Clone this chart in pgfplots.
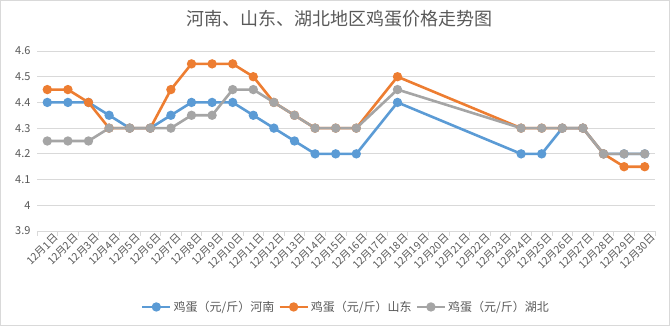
\documentclass[border=0pt]{standalone}
\usepackage{pgfplots}
\pgfplotsset{compat=1.18}
\usepackage{fontspec}
\setmainfont{Noto Sans CJK SC}
\definecolor{cBlue}{HTML}{5B9BD5}
\definecolor{cOrange}{HTML}{ED7D31}
\definecolor{cGray}{HTML}{A5A5A5}
\definecolor{cGrid}{HTML}{D9D9D9}
\definecolor{cText}{HTML}{595959}
\begin{document}
\begin{tikzpicture}
\path[use as bounding box] (-37pt,-95pt) rectangle (633pt,231pt);
\draw[cGrid, line width=0.8pt] (-36.5pt,-94.5pt) rectangle (632.5pt,230.5pt);
\begin{axis}[
  at={(0pt,0pt)}, anchor=south west,
  scale only axis, width=618pt, height=180pt,
  xmin=-0.5, xmax=29.5, ymin=3.9, ymax=4.6,
  ytick={3.9,4,4.1,4.2,4.3,4.4,4.5,4.6},
  xtick={0,...,29},
  xticklabels={12月1日,12月2日,12月3日,12月4日,12月5日,12月6日,12月7日,12月8日,12月9日,12月10日,12月11日,12月12日,12月13日,12月14日,12月15日,12月16日,12月17日,12月18日,12月19日,12月20日,12月21日,12月22日,12月23日,12月24日,12月25日,12月26日,12月27日,12月28日,12月29日,12月30日},
  extra x ticks={-0.5,0.5,...,29.5},
  extra x tick labels={},
  extra x tick style={major tick length=5pt, tick align=outside, grid=none, major tick style={draw=cGrid, line width=0.8pt}},
  major tick length=0pt,
  axis x line*=bottom, axis y line*=left,
  separate axis lines,
  x axis line style={draw=cGrid, line width=0.8pt, -},
  y axis line style={draw=none},
  ymajorgrids, grid style={draw=cGrid, line width=0.8pt},
  /pgf/number format/assume math mode=true,
  yticklabel style={font=\fontsize{11}{12}\selectfont, text=cText, xshift=-3pt},
  xticklabel style={font=\fontsize{10.5}{11}\selectfont, text=cText, rotate=45, anchor=north east, inner sep=1pt, xshift=4pt, yshift=-4pt},
  legend columns=3,
  legend style={at={(0.5,-0.422)}, anchor=center, draw=none, fill=none, font=\fontsize{12}{13}\selectfont, text=cText, /tikz/every even column/.append style={column sep=2pt}},
  legend image code/.code={\draw[mark repeat=2,mark phase=2] plot coordinates {(0pt,0pt) (14pt,0pt) (28pt,0pt)};},
  every axis plot/.append style={line width=2.6pt, mark=*, mark size=3.3pt, mark options={solid}},
  clip=false,
]
\addplot[cBlue] coordinates {
(0,4.4) (1,4.4) (2,4.4) (3,4.35) (4,4.3) (5,4.3) (6,4.35) (7,4.4) (8,4.4) (9,4.4)
(10,4.35) (11,4.3) (12,4.25) (13,4.2) (14,4.2) (15,4.2) (17,4.4) (23,4.2) (24,4.2)
(25,4.3) (26,4.3) (27,4.2) (28,4.2) (29,4.2)};
\addlegendentry{鸡蛋（元/斤）河南}
\addplot[cOrange] coordinates {
(0,4.45) (1,4.45) (2,4.4) (3,4.3) (4,4.3) (5,4.3) (6,4.45) (7,4.55) (8,4.55) (9,4.55)
(10,4.5) (11,4.4) (12,4.35) (13,4.3) (14,4.3) (15,4.3) (17,4.5) (23,4.3) (24,4.3)
(25,4.3) (26,4.3) (27,4.2) (28,4.15) (29,4.15)};
\addlegendentry{鸡蛋（元/斤）山东}
\addplot[cGray] coordinates {
(0,4.25) (1,4.25) (2,4.25) (3,4.3) (4,4.3) (5,4.3) (6,4.3) (7,4.35) (8,4.35) (9,4.45)
(10,4.45) (11,4.4) (12,4.35) (13,4.3) (14,4.3) (15,4.3) (17,4.45) (23,4.3) (24,4.3)
(25,4.3) (26,4.3) (27,4.2) (28,4.2) (29,4.2)};
\addlegendentry{鸡蛋（元/斤）湖北}
\end{axis}
\node[text=cText, font=\fontsize{18}{20}\selectfont] at (302pt,212pt) {河南、山东、湖北地区鸡蛋价格走势图};
\end{tikzpicture}
\end{document}
